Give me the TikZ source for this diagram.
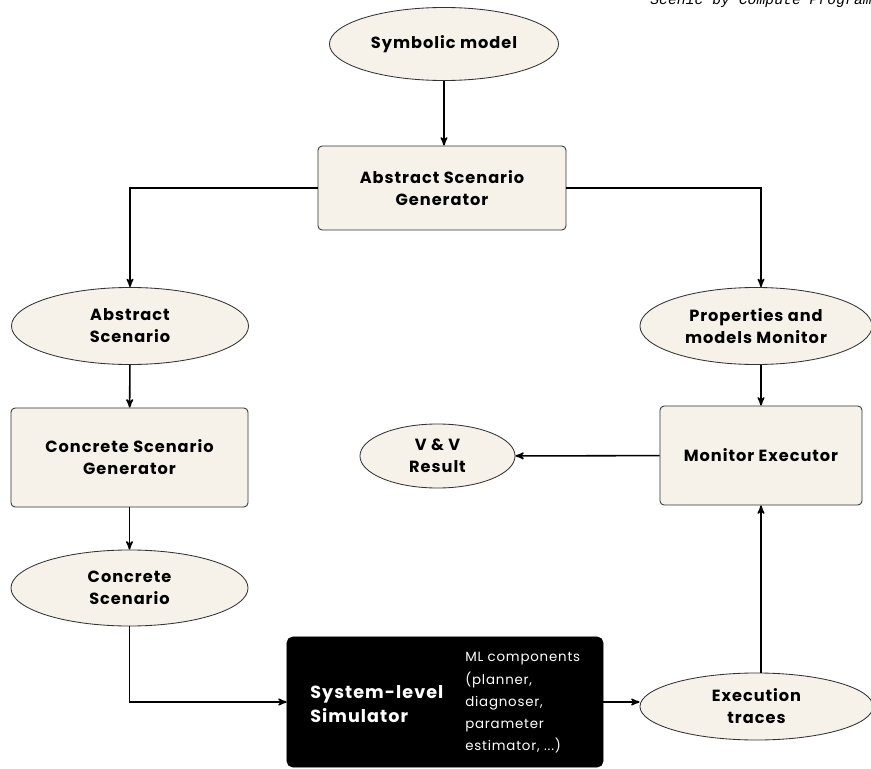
\documentclass[tikz,border=0pt]{standalone}
\usepackage{fontspec}
\setmainfont{Poppins}[LetterSpace = 6]
\newfontfamily\notefont{Liberation Mono}
\usetikzlibrary{arrows}
\usetikzlibrary{shapes.geometric}
\definecolor{cream}{RGB}{246,242,234}
\definecolor{edge}{RGB}{50,50,50}
\tikzset{box/.style = {draw = edge, line width = 0.6pt, fill = cream, rounded corners = 3pt,
                       align = center, inner sep = 0pt,
                       font = \bfseries\fontsize{11.5}{15.6}\selectfont},
         blob/.style = {ellipse, draw = edge, line width = 0.6pt, fill = cream,
                        align = center, inner sep = 0pt,
                        font = \bfseries\fontsize{11.5}{15.6}\selectfont},
         flow/.style = {->, >=stealth', line width = 1.1pt}}

\begin{document}
\begin{tikzpicture}[x = 0.025cm, y = -0.025cm]
      \useasboundingbox (0, 0) rectangle (871, 769);
      \clip (0, 0) rectangle (871, 769);
      \node [anchor = base west, inner sep = 0pt, font = \notefont\itshape\fontsize{10.5}{13}\selectfont] (note) at (650, 4) {Scenic by Compute Programming};

      \node [blob, minimum width = 5.725cm, minimum height = 1.825cm] (model) at (444, 44) {Symbolic model};
      \node [box, minimum width = 6.2cm, minimum height = 2.1cm] (asg) at (442, 188) {Abstract Scenario\\Generator};
      \node [blob, minimum width = 5.925cm, minimum height = 1.925cm] (abs) at (130, 326) {Abstract\\Scenario};
      \node [blob, minimum width = 5.8cm, minimum height = 1.925cm] (psm) at (756, 326) {Properties and\\models Monitor};
      \node [box, minimum width = 5.925cm, minimum height = 2.475cm] (csg) at (129.5, 457.5) {Concrete Scenario\\Generator};
      \node [box, minimum width = 5.05cm, minimum height = 2.475cm] (mex) at (761, 455.5) {Monitor Executor};
      \node [blob, minimum width = 3.875cm, minimum height = 1.6cm] (vv) at (437.5, 456) {V \& V\\Result};
      \node [blob, minimum width = 5.925cm, minimum height = 1.9cm] (con) at (129.5, 588) {Concrete\\Scenario};
      \node [draw = black, fill = black, rounded corners = 4pt, minimum width = 7.9cm, minimum height = 3.25cm] (sim) at (445, 702) {};
      \node [anchor = west, align = left, text = white, inner sep = 0pt, font = \bfseries\fontsize{12.5}{16.8}\selectfont] (simtext) at (310, 704) {System-level\\Simulator};
      \node [anchor = west, align = left, text = white, inner sep = 0pt, font = \fontsize{9.5}{15.8}\selectfont] (mltext) at (465, 703) {ML components\\(planner,\\diagnoser,\\parameter\\estimator, ...)};
      \node [blob, minimum width = 5.825cm, minimum height = 1.675cm] (exe) at (756.5, 706.5) {Execution\\traces};

      \draw [flow] (model.south) -- (model.south |- asg.north);
      \draw [flow] (asg.west) -| (abs);
      \draw [flow] (asg.east) -| (psm.north -| mex.north);
      \draw [flow] (abs) -- (csg);
      \draw [flow] (csg) -- (con);
      \draw [flow] (con) |- (sim);
      \draw [flow] (sim) -- (sim -| exe.west);
      \draw [flow] (exe.north -| mex.south) -- (mex.south);
      \draw [flow] (psm.south -| mex.north) -- (mex.north);
      \draw [flow] (mex) -- (vv);

    \end{tikzpicture}
\end{document}
